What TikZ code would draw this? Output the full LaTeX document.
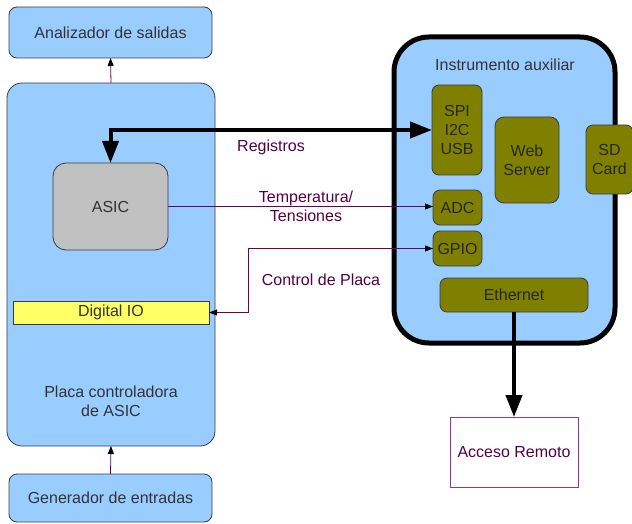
\documentclass[tikz,border=0pt]{standalone}
\usepackage{fontspec}
\setmainfont{Liberation Sans}
\usetikzlibrary{arrows.meta}
\definecolor{lblue}{HTML}{99CCFF}
\definecolor{olivebox}{HTML}{808000}
\definecolor{asicgray}{HTML}{C0C0C0}
\definecolor{dioyellow}{HTML}{FFFF66}
\definecolor{txtdark}{HTML}{333333}
\definecolor{bordr}{HTML}{3A3A4A}
\definecolor{linep}{HTML}{660066}
\definecolor{labp}{HTML}{550044}
\definecolor{accb}{HTML}{993399}
\tikzset{
  bigtip/.tip={Triangle[length=22pt,width=16pt]},
  smalltip/.tip={Triangle[length=8pt,width=6pt,color=black]},
  base/.style={inner sep=0pt, outer sep=0pt, font=\fontsize{16}{19}\selectfont, text=txtdark, align=center},
  bluebox/.style={base, draw=bordr, line width=0.8pt, fill=lblue, rounded corners=8pt},
  olbox/.style={base, draw=bordr, line width=0.8pt, fill=olivebox, text=black!85, rounded corners=7pt},
  lab/.style={base, text=labp},
  thinarr/.style={draw=linep, line width=0.8pt},
  tiparr/.style={-smalltip, thinarr},
  bigarr/.style={line width=4pt, draw=black}
}
\begin{document}
\begin{tikzpicture}[x=1pt,y=-1pt]
\useasboundingbox (0,0) rectangle (632,524);
% left column
\node[bluebox, minimum width=203pt, minimum height=51pt] (anal) at (110.5,32.5) {Analizador de salidas};
\node[bluebox, rounded corners=15pt, minimum width=208pt, minimum height=363pt] (placa) at (111,264.5) {};
\node[lab, text=txtdark] (placatxt) at (111,401) {Placa controladora\\de ASIC};
\node[bluebox, minimum width=203pt, minimum height=48pt] (gen) at (110.5,498) {Generador de entradas};
\node[base, draw=bordr, line width=0.8pt, fill=asicgray, rounded corners=13pt, minimum width=115pt, minimum height=87pt] (asic) at (110.5,206.5) {ASIC};
\node[base, draw=bordr, line width=0.8pt, fill=dioyellow, minimum width=196pt, minimum height=23pt] (dio) at (111,312.5) {Digital IO};
% instrument
\node[base, draw=black, line width=5pt, fill=lblue, rounded corners=35pt, minimum width=221pt, minimum height=306pt] (inst) at (504.5,190) {};
\node[base] (insttxt) at (505,65) {Instrumento auxiliar};
\node[olbox, minimum width=50pt, minimum height=90pt] (spi) at (457,130) {SPI\\I2C\\USB};
\node[olbox, rounded corners=9pt, minimum width=64pt, minimum height=86pt] (web) at (527,160) {Web\\Server};
\node[olbox, minimum width=47pt, minimum height=69pt] (sd) at (609.5,159.5) {SD\\Card};
\node[olbox, minimum width=49pt, minimum height=35pt] (adc) at (457.5,207.5) {ADC};
\node[olbox, minimum width=49pt, minimum height=35pt] (gpio) at (457.5,248.5) {GPIO};
\node[olbox, minimum width=148pt, minimum height=34pt] (eth) at (514,295) {Ethernet};
\node[base, draw=accb, line width=0.8pt, fill=white, text=labp, minimum width=128pt, minimum height=70pt] (acc) at (514,452) {Acceso Remoto};
% connectors
\draw[tiparr] (placa.north) -- (anal.south);
\draw[tiparr] (gen.north) -- (placa.south);
\draw[bigarr, bigtip-bigtip] (asic.north) |- (spi.west);
\node[lab] (regl) at (271,147) {Registros};
\draw[tiparr] (asic.east) -- (asic.east -| adc.west);
\node[lab] (templ) at (306,206) {Temperatura/\\Tensiones};
\coordinate (cbend) at (248,248.5);
\draw[thinarr, smalltip-smalltip] (dio.east) -| (cbend) -- (gpio.west);
\node[lab] (ctrll) at (321,280) {Control de Placa};
\draw[bigarr, -bigtip] (eth.south) -- (acc.north);
\end{tikzpicture}
\end{document}
